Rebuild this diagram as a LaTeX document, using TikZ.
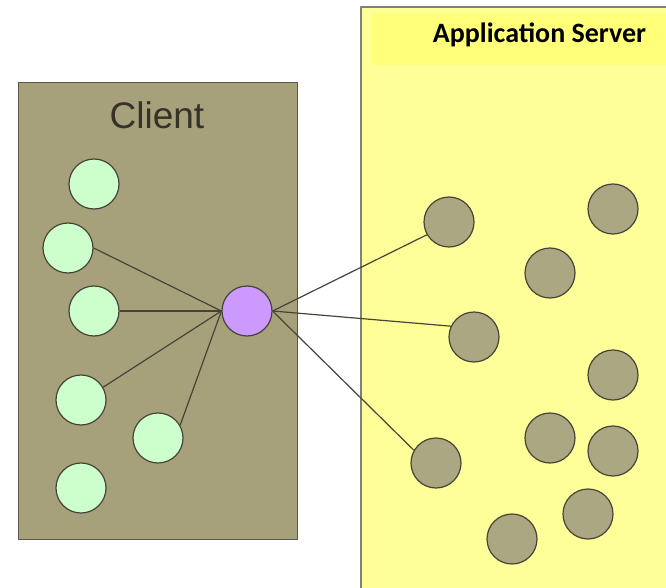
\documentclass[tikz,border=0pt]{standalone}
\usepackage{fontspec}
\setmainfont{Liberation Sans}
\newfontfamily\titlefont{Carlito}
\definecolor{ink}{RGB}{70,68,55}
\definecolor{khaki}{RGB}{166,161,122}
\definecolor{khakinode}{RGB}{170,167,130}
\definecolor{mint}{RGB}{204,255,204}
\definecolor{lilac}{RGB}{204,153,255}
\definecolor{serveryellow}{RGB}{255,255,153}
\definecolor{bandyellow}{RGB}{255,255,122}
\definecolor{frame}{RGB}{128,128,120}

\begin{document}
\begin{tikzpicture}[
    x=1pt,
    y=-1pt,
    line join=round,
    clientbox/.style={
      draw=ink!90,
      fill=khaki,
      line width=1pt
    },
    serverbox/.style={
      draw=frame,
      fill=serveryellow,
      line width=1.8pt
    },
    dot/.style={
      circle,
      draw=ink,
      line width=1.2pt,
      minimum size=50pt,
      inner sep=0pt
    },
    clientdot/.style={dot,fill=mint},
    hubdot/.style={dot,fill=lilac},
    serverdot/.style={dot,fill=khakinode},
    link/.style={
      draw=ink,
      line width=1.2pt
    }
]
\useasboundingbox (0,0) rectangle (666,588);
\clip (0,0) rectangle (666,588);

% Both containers; the server one runs off the page.
\draw[clientbox] (18,83) rectangle (297,539);
\draw[serverbox] (361,7) rectangle (690,610);
\fill[bandyellow] (372,13) rectangle (690,65);

\node[font=\titlefont\bfseries\fontsize{28}{31}\selectfont] (title)
  at (539.5,35) {Application Server};
\node[font=\fontsize{37}{40}\selectfont,text=ink!75!black] (client)
  at (157,115) {Client};

% Client-side objects and the proxy in front of them.
\foreach \name/\x/\y in {c1/94/184, c2/68/248, c3/94/311,
                         c4/81/400, c5/158/438, c6/81/488} {
  \node[clientdot] (\name) at (\x,\y) {};
}
\node[hubdot] (hub) at (247,311) {};

% Remote objects living on the server.
\foreach \name/\x/\y in {s1/449/222, s2/613/209, s3/550/273,
                         s4/474/337, s5/613/375, s6/436/463,
                         s7/550/438, s8/613/451, s9/588/514,
                         s10/512/539} {
  \node[serverdot] (\name) at (\x,\y) {};
}

% Wiring through the proxy.
\draw[link] (c2.east) -- (hub.west);
\draw[link] (c3.east) -- (hub.west);
\draw[link] (c4.30) -- (hub.west);
\draw[link] (c5.30) -- (hub.west);
\draw[link] (hub.east) -- (s1.210);
\draw[link] (hub.east) -- (s4.155);
\draw[link] (hub.east) -- (s6.150);

\end{tikzpicture}
\end{document}
